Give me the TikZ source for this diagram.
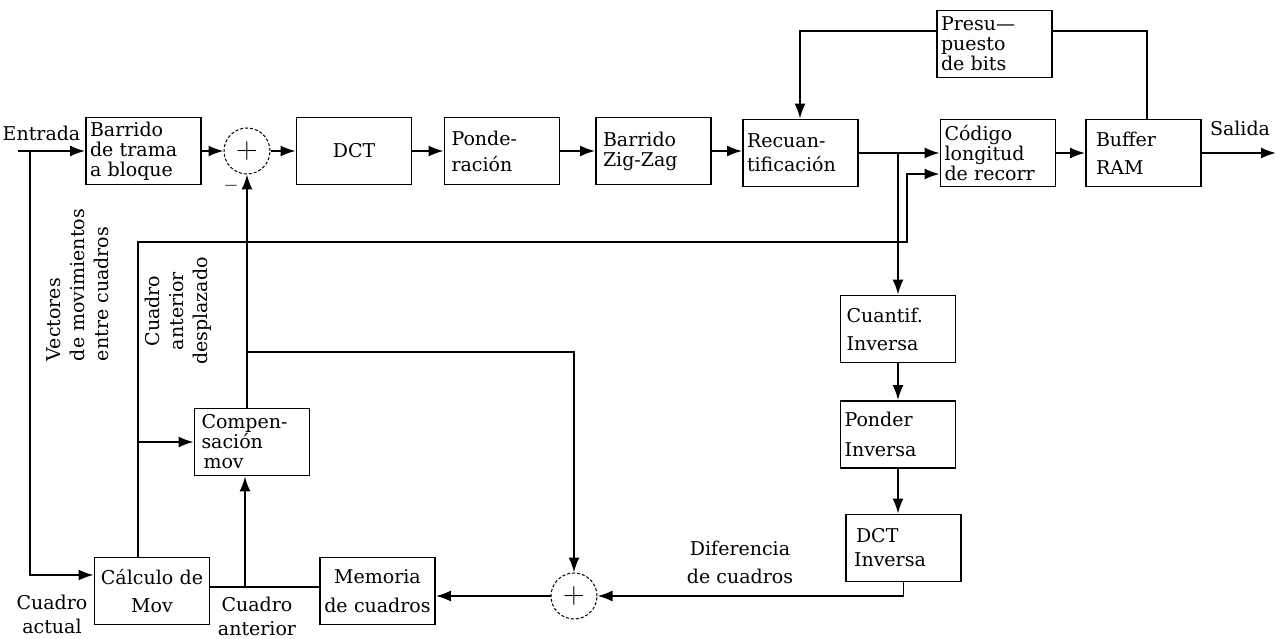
\documentclass[tikz,border=0pt]{standalone}
\usepackage{fix-cm}
\usepackage{fontspec}
\setmainfont{DejaVu Serif}
\usetikzlibrary{arrows.meta, positioning}
\newcommand{\boxfont}{\fontsize{19}{20}\selectfont}
\newcommand{\lblfont}{\fontsize{19}{24}\selectfont}
\tikzset{
    block/.style={ % every box of the coder
        draw,
        line width=1.8pt,
        minimum height=67pt,
        text width=107pt,
        inner xsep=4pt,
        inner ysep=2pt,
        align=left,
        font=\boxfont
    },
    sum/.style={ % adders
        circle,
        draw,
        densely dashed,
        line width=1pt,
        minimum size=46pt,
        inner sep=0pt,
        font=\fontsize{30}{30}\selectfont
    },
    lbl/.style={inner sep=0pt, font=\lblfont}, % free texts
    >={Latex[length=15pt,width=11pt]} % filled arrow heads
}

\begin{document}
\begin{tikzpicture}[x=1pt, y=-1pt, line width=1.8pt]
    \useasboundingbox (0,0) rectangle (1285,639);
    % top row
    \node[block] (barrido) at (143.5,151) {Barrido\\de trama\\a bloque};
    \node[sum] (sum1) at (247,151) {$+$};
    \node[block, align=center] (dct) at (354,151) {DCT};
    \node[block] (pond) at (502,151) {\hspace*{3pt}Ponde-\\[6pt]\hspace*{3pt}ración};
    \node[block] (zigzag) at (653.5,151) {\hspace*{3pt}Barrido\\\hspace*{3pt}Zig-Zag};
    \node[block] (recuant) at (800.5,153) {Recuan-\\[4pt]tificación};
    \node[block] (presup) at (994.5,44) {Presu—\\puesto\\de bits};
    \node[block] (codigo) at (998,153) {Código\\longitud\\de recorr};
    \node[block] (buffer) at (1143.5,153) {\hspace*{6pt}Buffer\\[8pt]\hspace*{6pt}RAM};
    % inverse path
    \node[block] (cuantif) at (898,329) {\hspace*{2pt}Cuantif.\\[8pt]\hspace*{2pt}Inversa};
    \node[block] (ponderinv) at (898,434.5) {Ponder\\[10pt]Inversa};
    \node[block] (dctinv) at (903.5,548) {\hspace*{6pt}DCT\\[4pt]\hspace*{4pt}Inversa};
    % bottom row
    \node[sum] (sum2) at (574,596) {$+$};
    \node[block, align=center] (memoria) at (377.5,591) {Memoria\\[9pt]de cuadros};
    \node[block, align=center] (calc) at (152,591) {Cálculo de\\[8pt]Mov};
    \node[block] (compens) at (252,442) {\hspace*{3pt}Compen-\\\hspace*{3pt}sación\\\hspace*{5pt}mov};

    % labels
    \node[lbl] (entrada) at (41.5,133) {Entrada};
    \node[lbl] (salida) at (1240,128) {Salida};
    \node[lbl] (minus) at (231,186) {$-$};
    \node[lbl, align=center] (actual) at (52,614) {Cuadro\\actual};
    \node[lbl, align=center] (anterior) at (257,616) {Cuadro\\anterior};
    \node[lbl, align=center] (diferencia) at (740,562) {Diferencia\\[4pt]de cuadros};
    \node[lbl, rotate=90, align=left] (vectores) at (78,285) {Vectores\\de movimientos\\entre cuadros};
    \node[lbl, rotate=90, align=center] (desplazado) at (178,311) {Cuadro\\anterior\\desplazado};

    % points of the wires
    \coordinate (in) at (18,151);
    \coordinate (out) at (1276,153);
    \coordinate (j0) at (30,151);
    \coordinate (c0) at (30,575);
    \coordinate (j1) at (245,587);
    \coordinate (j2) at (247,352);
    \coordinate (j3) at (898,153);
    \coordinate (k1) at (138,242);
    \coordinate (k2) at (907,242);
    \coordinate (k3) at (907,174);
    \coordinate (t1) at (800,31);
    \coordinate (t2) at (1147,31);

    % forward path
    \draw[->] (in) -- (in -| barrido.west);
    \draw[->] (barrido) -- (sum1);
    \draw[->] (sum1) -- (dct);
    \draw[->] (dct) -- (pond);
    \draw[->] (pond) -- (zigzag);
    \draw[->] (zigzag.east) -- (zigzag.east -| recuant.west);
    \draw[->] (recuant) -- (codigo);
    \draw[->] (codigo) -- (buffer);
    \draw[->] (buffer) -- (out);
    % bit budget
    \draw (buffer.north -| t2) -- (t2) -- (t2 -| presup.east);
    \draw[->] (presup.west |- t1) -- (t1) -- (t1 |- recuant.north);
    % inverse path
    \draw[->] (j3) -- (j3 |- cuantif.north);
    \draw[->] (cuantif) -- (ponderinv);
    \draw[->] (ponderinv.south) -- (ponderinv.south |- dctinv.north);
    \draw[->] (dctinv.south) |- (sum2);
    \draw[->] (sum2.west) -- (sum2.west -| memoria.east);
    % motion loop
    \draw (memoria.west |- j1) -- (calc.east |- j1);
    \draw[->] (j1) -- (j1 |- compens.south);
    \draw[->] (compens.north -| sum1) -- (sum1.south);
    \draw[->] (j2) -| (sum2.north);
    \draw[->] (j0) -- (c0) -- (c0 -| calc.west);
    \draw[->] (calc.north -| k1) -- (k1) -- (k2) -- (k3) -- (k3 -| codigo.west);
    \draw[->] (k1 |- compens) -- (compens.west);
\end{tikzpicture}
\end{document}
